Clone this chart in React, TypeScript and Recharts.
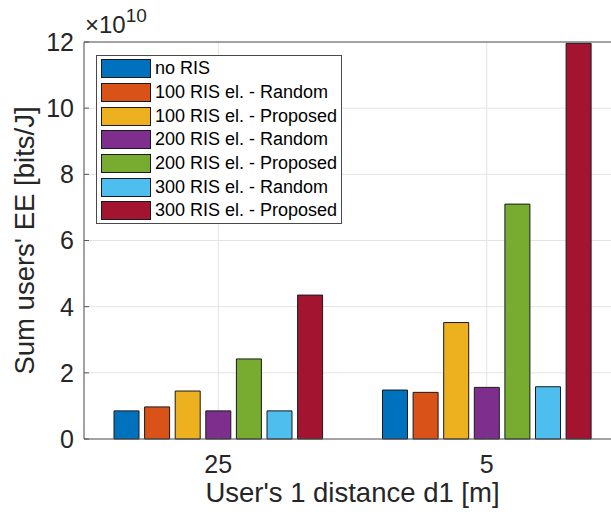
import React from "react";
import {BarChart, Bar, XAxis, YAxis, CartesianGrid, Legend, ReferenceLine} from "recharts";

// values are in units of 10^10 bits/J (axis shows the x10^10 multiplier)
const categories = ["25", "5"];
const noRIS = [0.85, 1.48];
const ris100Random = [0.97, 1.41];
const ris100Proposed = [1.45, 3.52];
const ris200Random = [0.85, 1.56];
const ris200Proposed = [2.42, 7.10];
const ris300Random = [0.85, 1.58];
const ris300Proposed = [4.35, 11.96];
const yTicks = [0, 2, 4, 6, 8, 10, 12];

const SERIES = [
    {key: "noRIS", name: "no RIS", values: noRIS, color: "#0072BD"},
    {key: "r100", name: "100 RIS el. - Random", values: ris100Random, color: "#D95319"},
    {key: "p100", name: "100 RIS el. - Proposed", values: ris100Proposed, color: "#EDB120"},
    {key: "r200", name: "200 RIS el. - Random", values: ris200Random, color: "#7E2F8E"},
    {key: "p200", name: "200 RIS el. - Proposed", values: ris200Proposed, color: "#77AC30"},
    {key: "r300", name: "300 RIS el. - Random", values: ris300Random, color: "#4DBEEE"},
    {key: "p300", name: "300 RIS el. - Proposed", values: ris300Proposed, color: "#A2142F"},
];

const FONT = '"Liberation Sans", Arial, Helvetica, sans-serif';
const AXIS = "#262626";

const data = categories.map((c, i) => {
    const row: Record<string, any> = {dist: c};
    SERIES.forEach((s) => { row[s.key] = s.values[i]; });
    return row;
});

function LegendBox(){
    return (
        <div style={{border: "1px solid #4a4a4a", background: "#fff", padding: "1px 4px 0px 4px", fontFamily: FONT}}>
            {SERIES.map((s) => (
                <div key={s.key} style={{display: "flex", alignItems: "center", height: 23.7}}>
                    <div style={{width: 50, height: 19, boxSizing: "border-box", border: "1px solid #1a1a1a", background: s.color, marginRight: 4}}/>
                    <span style={{fontSize: 18, color: "#000", whiteSpace: "nowrap", lineHeight: "23px"}}>{s.name}</span>
                </div>
            ))}
        </div>
    );
}

export default function App(){
    return (
        <div style={{position: "fixed", left: 0, top: 0, width: 611, height: 520, overflow: "hidden", background: "#fff"}}>
            <BarChart width={625} height={520} data={data} margin={{top: 42, right: 4, bottom: 0, left: 0}} barSize={25} barGap={5.6}>
                <CartesianGrid stroke="#e3e3e3" strokeWidth={1}/>
                <XAxis dataKey="dist" height={81} tickLine={{stroke: "#555"}} tickSize={-5} tickMargin={21}
                    axisLine={{stroke: "#555", strokeWidth: 1}}
                    tick={{fill: AXIS, fontSize: 25, fontFamily: FONT}}
                    label={{
                        content: (p: any) => {
                            const vb = p.viewBox;
                            return (
                                <text x={vb.x + vb.width / 2} y={502} textAnchor="middle" fill={AXIS} style={{fontSize: 27.5, fontFamily: FONT}}>
                                    User's 1 distance d1 [m]
                                </text>
                            );
                        }
                    }}
                />
                <YAxis type="number" domain={[0, 12]} ticks={yTicks} width={84} tickLine={{stroke: "#555"}} tickSize={-5} tickMargin={15}
                    axisLine={{stroke: "#555", strokeWidth: 1}} interval={0}
                    tick={{fill: AXIS, fontSize: 25, fontFamily: FONT}}
                    label={{
                        content: (p: any) => {
                            const vb = p.viewBox;
                            const cx = vb.x + 34;
                            const cy = vb.y + vb.height / 2;
                            return (
                                <text x={cx} y={cy} transform={`rotate(-90, ${cx}, ${cy})`} textAnchor="middle" fill={AXIS} style={{fontSize: 27.5, fontFamily: FONT}}>
                                    Sum users' EE [bits/J]
                                </text>
                            );
                        }
                    }}
                />
                {/* top edge of the axes box */}
                <ReferenceLine y={12} stroke="#555" strokeWidth={1}/>
                {SERIES.map((s) => (
                    <Bar key={s.key} dataKey={s.key} name={s.name} fill={s.color} stroke="#1a1a1a" strokeWidth={1} isAnimationActive={false}/>
                ))}
                <Legend layout="vertical" align="center" verticalAlign="middle" wrapperStyle={{top: 55, left: 96, width: "auto"}} content={() => <LegendBox/>}/>
            </BarChart>
            {/* axis multiplier, MATLAB style */}
            <div style={{position: "absolute", left: 85, top: 13, fontFamily: FONT, fontSize: 24, lineHeight: "24px", color: AXIS, whiteSpace: "nowrap"}}>
                ×10<span style={{fontSize: 19, position: "relative", top: -11.5}}>10</span>
            </div>
        </div>
    );
}
